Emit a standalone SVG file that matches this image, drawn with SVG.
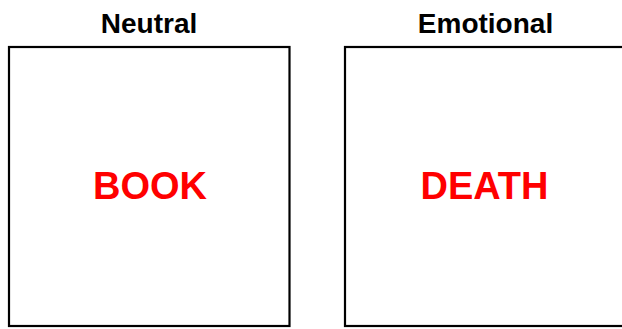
<svg xmlns="http://www.w3.org/2000/svg" width="622" height="329" viewBox="0 0 622 329">
<style>
.box{fill:#fff;stroke:#000;stroke-width:2.2}
.title{font-family:"Liberation Sans",Arial,sans-serif;font-weight:bold;font-size:28px;fill:#000;text-anchor:middle}
.word{font-family:"Liberation Sans",Arial,sans-serif;font-weight:bold;font-size:38px;fill:#ff0000;text-anchor:middle}
</style>
<rect width="622" height="329" fill="#fff"/>
<g id="neutral">
<text class="title" x="149" y="33">Neutral</text>
<rect class="box" x="9" y="47" width="280.5" height="279"/>
<text class="word" x="150" y="199">BOOK</text>
</g>
<g id="emotional">
<text class="title" x="485.5" y="33">Emotional</text>
<rect class="box" x="345" y="47" width="281" height="279"/>
<text class="word" x="484.5" y="199">DEATH</text>
</g>
<g id="connectors"/>
</svg>
